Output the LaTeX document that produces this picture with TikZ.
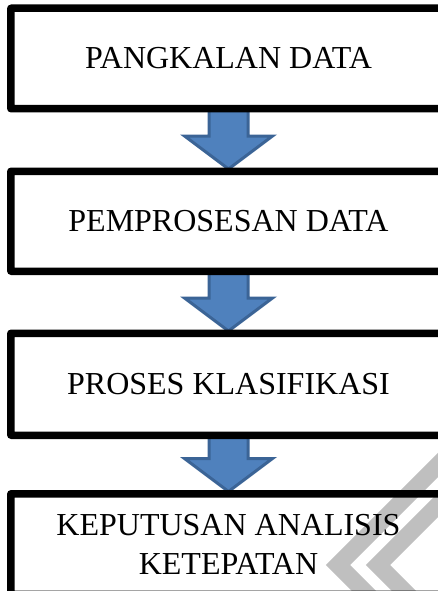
\documentclass[tikz,border=0pt]{standalone}
\usepackage{fontspec}
\setmainfont{Liberation Serif}
\usetikzlibrary{calc}
\definecolor{arrowfill}{HTML}{4F81BD}
\definecolor{arrowline}{HTML}{3B6496}
\definecolor{wmgray}{HTML}{BFBFBF}
\tikzset{
  stagebox/.style={draw=black, line width=5pt, rounded corners=2pt, minimum width=433pt,
    align=center, inner sep=0pt, font=\fontsize{32}{39}\selectfont},
  blk/.style={fill=arrowfill, draw=arrowline, line width=3pt, line join=miter},
  wm/.style={draw=wmgray, line width=17pt, line join=miter}
}
\newcommand\blkarrow[2]{%
  \draw[blk] let \p1=(#1.south), \p2=(#2.north) in
    (\x1-19.5pt,\y1) -- (\x1+19.5pt,\y1) -- (\x1+19.5pt,\y2+34pt) -- (\x1+44pt,\y2+34pt)
    -- (\x1,\y2+1pt) -- (\x1-44pt,\y2+34pt) -- (\x1-19.5pt,\y2+34pt) -- cycle;}
\begin{document}
\begin{tikzpicture}[x=1pt,y=-1pt]
\useasboundingbox (0,0) rectangle (438,591);
% watermark
\draw[wm] (463,440) -- (338,565) -- (378,605);
\draw[wm] (463,480) -- (378,565) -- (418,605);
% boxes
\node[stagebox, minimum height=98pt] (b1) at (228.5,58.5) {PANGKALAN DATA};
\node[stagebox, minimum height=97.5pt] (b2) at (228.5,221.25) {PEMPROSESAN DATA};
\node[stagebox, minimum height=99.5pt] (b3) at (228.5,384.25) {PROSES KLASIFIKASI};
\node[stagebox, minimum height=98pt] (b4) at (228.5,544) {KEPUTUSAN ANALISIS\\KETEPATAN};
% arrows
\blkarrow{b1}{b2}
\blkarrow{b2}{b3}
\blkarrow{b3}{b4}
% redraw box borders over arrows
\foreach \b in {b1,b2,b3,b4}{
  \draw[line width=5pt, rounded corners=2pt] (\b.south west) rectangle (\b.north east);
}
\end{tikzpicture}
\end{document}
